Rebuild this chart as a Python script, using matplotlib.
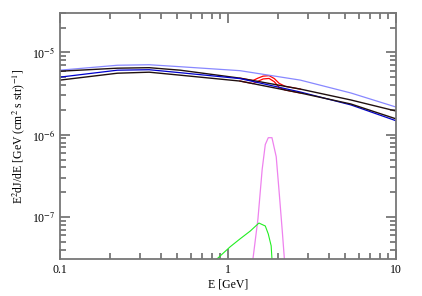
import numpy as np
import matplotlib
matplotlib.use('Agg')
import matplotlib.pyplot as plt

plt.rcParams['font.family'] = ['Liberation Serif', 'DejaVu Serif']
plt.rcParams['mathtext.fontset'] = 'stix'

# Energies (GeV) for the broad spectra
E_bg = [0.1, 0.22, 0.34, 0.52, 1.18, 2.7, 5.4, 10]
# light blue upper curve
flux_lightblue = [6.07e-6, 6.97e-6, 7.07e-6, 6.69e-6, 5.99e-6, 4.60e-6, 3.21e-6, 2.17e-6]
# black upper curve
flux_black1 = [5.90e-6, 6.42e-6, 6.51e-6, 6.07e-6, 4.86e-6, 3.58e-6, 2.64e-6, 1.94e-6]
# blue curve
flux_blue = [5.00e-6, 6.07e-6, 6.15e-6, 5.66e-6, 4.80e-6, 3.30e-6, 2.30e-6, 1.48e-6]
# black lower curve
flux_black2 = [4.60e-6, 5.58e-6, 5.74e-6, 5.28e-6, 4.48e-6, 3.21e-6, 2.36e-6, 1.56e-6]

# red curves (background + line), bump around 1.7 GeV
E_red = [1.18, 1.41, 1.51, 1.62, 1.76, 1.89, 2.02, 2.19, 2.7]
flux_red1 = [4.86e-6, 4.55e-6, 4.86e-6, 5.14e-6, 5.21e-6, 4.80e-6, 4.20e-6, 3.87e-6, 3.58e-6]
flux_red2 = [4.48e-6, 4.17e-6, 4.45e-6, 4.75e-6, 4.82e-6, 4.40e-6, 3.75e-6, 3.49e-6, 3.21e-6]

# line signal (violet)
E_line = [1.38, 1.41, 1.51, 1.60, 1.67, 1.74, 1.83, 1.94, 2.02, 2.11, 2.17, 2.2]
flux_line = [2.0e-8, 3.1e-8, 9.5e-8, 3.79e-7, 7.6e-7, 9.2e-7, 9.2e-7, 5.4e-7, 2.0e-7, 6.6e-8, 3.1e-8, 2.0e-8]

# continuum signal (green)
E_cont = [0.84, 0.86, 1.03, 1.18, 1.36, 1.53, 1.67, 1.74, 1.81, 1.83, 1.85]
flux_cont = [2.5e-8, 3.1e-8, 4.35e-8, 5.43e-8, 6.78e-8, 8.47e-8, 7.8e-8, 6.24e-8, 4.48e-8, 3.1e-8, 2.0e-8]

fig = plt.figure(figsize=(4.22, 2.96), dpi=100)
ax = fig.add_axes([0.142, 0.125, 0.796, 0.831])

ax.loglog(E_line, flux_line, color='#ee82ee', lw=0.9)
ax.loglog(E_cont, flux_cont, color='#22ee22', lw=0.8)
ax.loglog(E_red, flux_red1, color='red', lw=0.9)
ax.loglog(E_red, flux_red2, color='red', lw=0.9)
ax.loglog(E_bg, flux_lightblue, color='#8888ff', lw=0.9)
ax.loglog(E_bg, flux_black1, color='#201010', lw=1.0)
ax.loglog(E_bg, flux_blue, color='#0000cc', lw=0.9)
ax.loglog(E_bg, flux_black2, color='#201010', lw=1.0)

ax.set_xlim(0.1, 10)
ax.set_ylim(3.1e-8, 3e-5)
ax.set_xticks([0.1, 1, 10])
ax.set_xticklabels(['0.1', '1', '10'])
ax.set_yticks([1e-7, 1e-6, 1e-5])
ax.set_yticklabels([r'10$^{-7}$', r'10$^{-6}$', r'10$^{-5}$'])

for s in ax.spines.values():
    s.set_color('#777777')
    s.set_linewidth(1.3)
ax.tick_params(which='both', direction='in', top=True, right=True,
               color='#777777', labelsize=8.5)
ax.tick_params(which='major', length=7, width=1.3)
ax.tick_params(which='minor', length=4, width=1.3)

ax.set_xlabel('E [GeV]', fontsize=8.5, labelpad=2)
ax.set_ylabel(r'E$^2$dJ/dE [GeV (cm$^2$ s str)$^{-1}$]', fontsize=8.5, labelpad=3)

fig.savefig('out.png', dpi=100)
